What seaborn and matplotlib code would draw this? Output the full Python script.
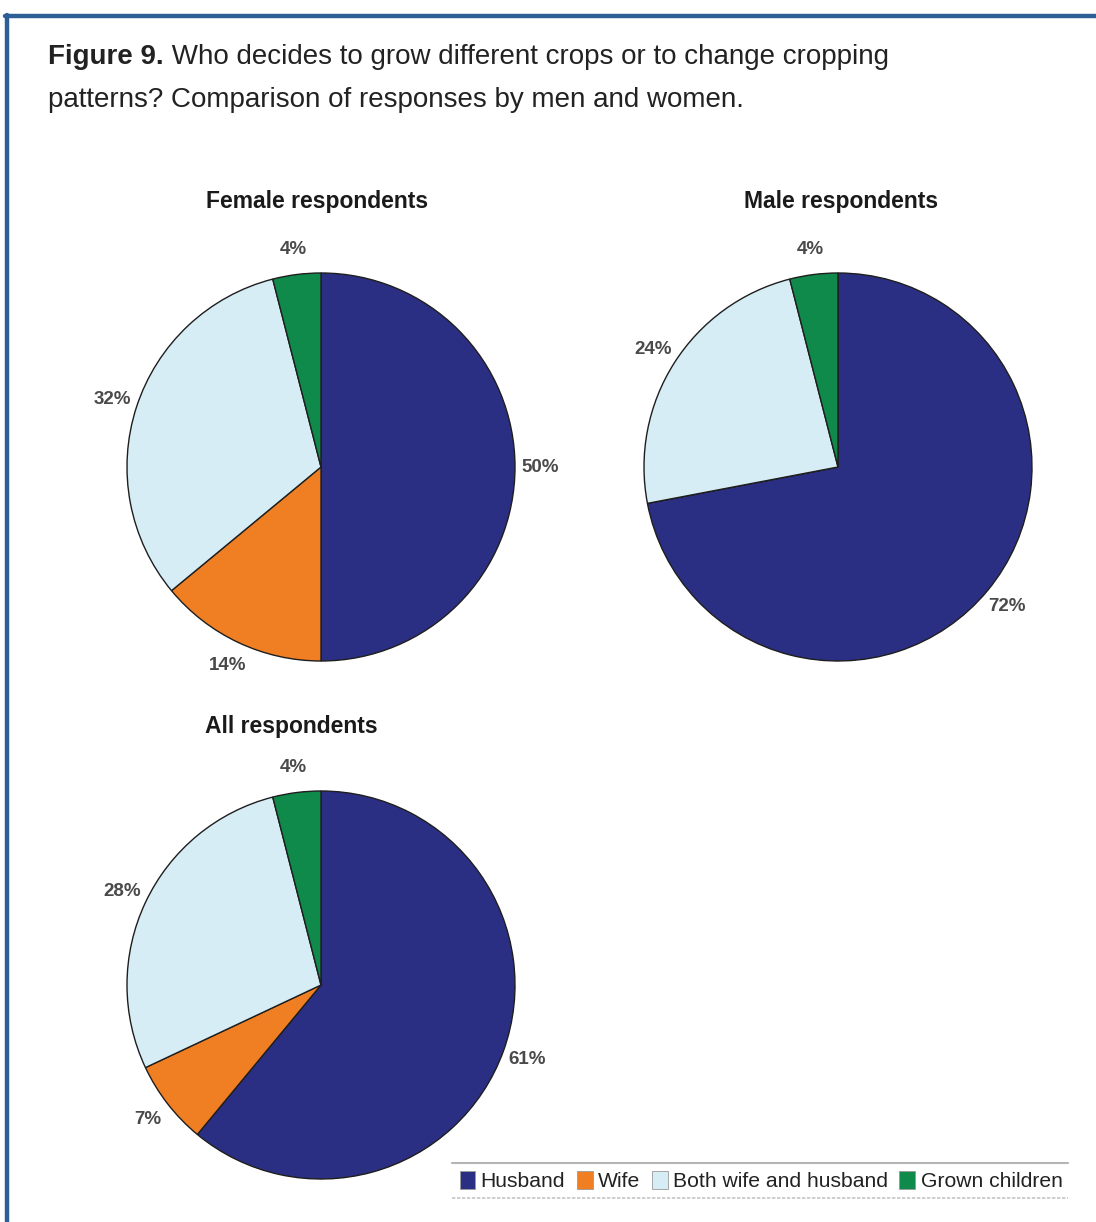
import matplotlib
matplotlib.use("Agg")
import matplotlib.pyplot as plt
import seaborn as sns
from matplotlib.patches import Patch
from matplotlib.lines import Line2D

# Categories and shares (%)
categories = ["Husband", "Wife", "Both wife and husband", "Grown children"]
female = [50, 14, 32, 4]
male = [72, 0, 24, 4]
everyone = [61, 7, 28, 4]
titles = ["Female respondents", "Male respondents", "All respondents"]

sns.set_theme(style="white")
colors = sns.color_palette(["#2b2f83", "#f07f23", "#d6edf5", "#0f8a4a"])
plt.rcParams["font.family"] = ["Liberation Sans", "DejaVu Sans"]

W, H = 1096, 1222
fig = plt.figure(figsize=(W / 100, H / 100), dpi=100)
fig.patch.set_facecolor("white")

bg = fig.add_axes([0, 0, 1, 1])
bg.set_xlim(0, W)
bg.set_ylim(H, 0)
bg.axis("off")

# blue frame at top and left
bg.add_line(Line2D([5, W], [16, 16], color="#2d5e95", lw=3.2))
bg.add_line(Line2D([6.5, 6.5], [14.5, H], color="#2d5e95", lw=3.2))

# header
head = bg.text(48, 64, "Figure 9.", fontsize=20, fontweight="bold",
               color="#222222", va="baseline")
bg.annotate(" Who decides to grow different crops or to change cropping",
            xy=(1, 0), xycoords=head, va="bottom", ha="left",
            fontsize=20, color="#222222")
bg.text(48, 107, "patterns? Comparison of responses by men and women.",
        fontsize=20, color="#222222", va="baseline")

R = 194
pad = 1.35


def pie_axes(cx, cy):
    s = 2 * R * pad
    return fig.add_axes([(cx - s / 2) / W, 1 - (cy + s / 2) / H, s / W, s / H])


panels = [(female, (321, 467), -0.02, 1.37),
          (male, (838, 467), 0.015, 1.366),
          (everyone, (321, 985), -0.155, 1.335)]

for (vals, (cx, cy), tx, ty), title in zip(panels, titles):
    ax = pie_axes(cx, cy)
    wedges, _, autotexts = ax.pie(
        vals, colors=colors, startangle=90, counterclock=False, radius=1,
        autopct=lambda p: f"{p:.0f}%" if p > 0.5 else "",
        pctdistance=1.13,
        wedgeprops=dict(edgecolor="#1e1e1e", linewidth=1.0),
        textprops=dict(fontsize=13.5, color="#4a4a4a", fontweight="bold"))
    ax.set_xlim(-pad, pad)
    ax.set_ylim(-pad, pad)
    ax.set_aspect("equal")
    ax.axis("off")
    ax.text(tx, ty, title, ha="center", va="center", fontsize=16.5,
            fontweight="bold", color="#1a1a1a")

# legend with rules above and below
handles = [Patch(facecolor=c, edgecolor="#9a9a9a", linewidth=0.6) for c in colors]
fig.legend(handles, categories, loc="center", ncol=4,
           bbox_to_anchor=(761 / W, 1 - 1181 / H), frameon=False,
           fontsize=15.2, handlelength=0.75, handleheight=0.9,
           handletextpad=0.25, columnspacing=0.55, labelcolor="#222222")
bg.add_line(Line2D([452, 1068], [1163, 1163], color="#b5b5b5", lw=1.5))
bg.add_line(Line2D([452, 1068], [1198, 1198], color="#c5c5c5", lw=1.2, ls=(0, (2, 1))))

fig.savefig("out.png", dpi=100, facecolor="white")
